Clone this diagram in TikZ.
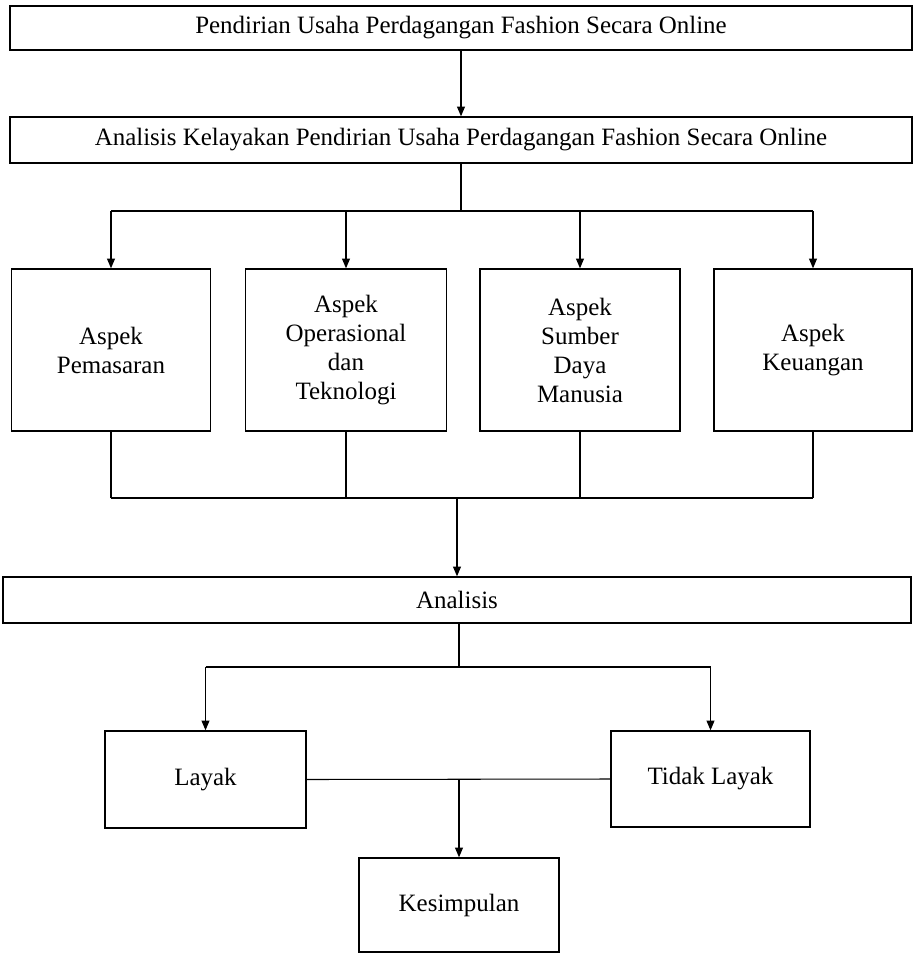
\documentclass[tikz,border=0pt]{standalone}
\usepackage{fontspec}
\setmainfont{Liberation Serif}
\usepackage{tikz}
\usetikzlibrary{arrows.meta,calc}

\tikzset{
  kotak/.style={draw,line width=0.8pt,align=center,inner sep=0pt},
  garis/.style={line width=0.6pt},
}

\begin{document}
\begin{tikzpicture}[>={Triangle[length=5.5pt,width=4.5pt]},font=\fontsize{14.2}{16.5}\selectfont]
\useasboundingbox (0,0) rectangle (18.28,-19.06);

% Judul dan analisis kelayakan
\node[kotak,minimum width=18.04cm,minimum height=0.88cm] (judul) at (9.22,-0.56)
  {Pendirian Usaha Perdagangan Fashion Secara Online};
\node[kotak,minimum width=18.04cm,minimum height=0.92cm] (kelayakan) at (9.22,-2.8)
  {Analisis Kelayakan Pendirian Usaha Perdagangan Fashion Secara Online};
\draw[garis,->] (judul) -- (kelayakan);

% Empat aspek
\node[kotak,minimum width=3.98cm,minimum height=3.24cm] (pemasaran) at (2.22,-7.0)
  {Aspek\\Pemasaran};
\node[kotak,minimum width=4.02cm,minimum height=3.24cm] (operasional) at (6.92,-7.0)
  {Aspek\\Operasional\\dan\\Teknologi};
\node[kotak,minimum width=4.0cm,minimum height=3.24cm] (sdm) at (11.6,-7.0)
  {Aspek\\Sumber\\Daya\\Manusia};
\node[kotak,minimum width=3.96cm,minimum height=3.24cm] (keuangan) at (16.26,-7.0)
  {Aspek\\Keuangan};

\coordinate (cabang) at (9.22,-4.22);
\draw[garis] (kelayakan) -- (cabang);
\draw[garis] (pemasaran.north |- cabang) -- (keuangan.north |- cabang);
\foreach \n in {pemasaran,operasional,sdm,keuangan}
\draw[garis,->] (\n.north |- cabang) -- (\n.north);

% Gabung ke analisis
\node[kotak,minimum width=18.16cm,minimum height=0.92cm] (analisis) at (9.14,-12.0) {Analisis};
\coordinate (gabung) at (9.14,-9.96);
\foreach \n in {pemasaran,operasional,sdm,keuangan}
\draw[garis] (\n.south) -- (\n.south |- gabung);
\draw[garis] (pemasaran.south |- gabung) -- (keuangan.south |- gabung);
\draw[garis,->] (gabung) -- (analisis);

% Hasil analisis
\node[kotak,minimum width=4.02cm,minimum height=1.94cm] (layak) at (4.11,-15.59) {Layak};
\node[kotak,minimum width=3.98cm,minimum height=1.92cm] (tidaklayak) at (14.21,-15.58) {Tidak Layak};
\coordinate (cabang2) at (9.18,-13.34);
\draw[garis] (analisis.south -| cabang2) -- (cabang2);
\draw[garis] (layak.north |- cabang2) -- (tidaklayak.north |- cabang2);
\draw[garis,->] (layak.north |- cabang2) -- (layak.north);
\draw[garis,->] (tidaklayak.north |- cabang2) -- (tidaklayak.north);

% Kesimpulan
\node[kotak,minimum width=4.0cm,minimum height=1.88cm] (kesimpulan) at (9.18,-18.1) {Kesimpulan};
\draw[garis] (layak.east) -- (tidaklayak.west);
\draw[garis,->] (kesimpulan.north |- layak.east) -- (kesimpulan.north);
\end{tikzpicture}
\end{document}
